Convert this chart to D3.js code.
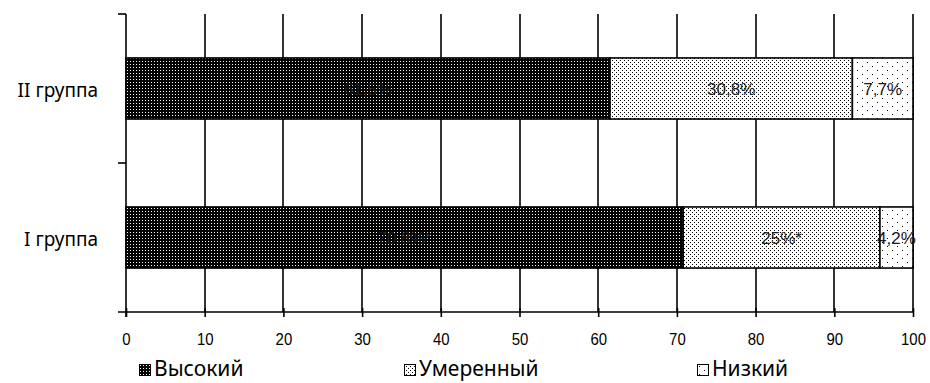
<!DOCTYPE html>
<html>
<head>
<meta charset="utf-8">
<script src="https://cdn.jsdelivr.net/npm/d3@7"></script>
<style>
  body { margin: 0; background: #fff; }
  svg { display: block; }
</style>
</head>
<body>
<div id="chart"></div>
<script>
// data
const groups = ["I группа", "II группа"];
const levels = ["Высокий", "Умеренный", "Низкий"];
const high = [70.8, 61.5];
const moderate = [25, 30.8];
const low = [4.2, 7.7];
const labels = [["70,8%*", "25%*", "4,2%"], ["61,5%", "30,8%", "7,7%"]];
const xTicks = [0, 10, 20, 30, 40, 50, 60, 70, 80, 90, 100];

const width = 930, height = 383;
const margin = {left: 126, right: 17, top: 14, bottom: 71};

const svg = d3.select("#chart").append("svg")
    .attr("width", width)
    .attr("height", height);

// patterns
const defs = svg.append("defs");
let p = defs.append("pattern").attr("id", "pat0").attr("patternUnits", "userSpaceOnUse")
    .attr("width", 3).attr("height", 3);
p.append("rect").attr("width", 3).attr("height", 3).attr("fill", "#000");
p.append("rect").attr("x", 1).attr("y", 1).attr("width", 1).attr("height", 1).attr("fill", "#fff");

p = defs.append("pattern").attr("id", "pat1").attr("patternUnits", "userSpaceOnUse")
    .attr("width", 4).attr("height", 4);
p.append("rect").attr("width", 4).attr("height", 4).attr("fill", "#fff");
p.append("rect").attr("x", 0).attr("y", 0).attr("width", 1).attr("height", 1).attr("fill", "#000");
p.append("rect").attr("x", 2).attr("y", 2).attr("width", 1).attr("height", 1).attr("fill", "#000");

p = defs.append("pattern").attr("id", "pat2").attr("patternUnits", "userSpaceOnUse")
    .attr("width", 10).attr("height", 8);
p.append("rect").attr("width", 10).attr("height", 8).attr("fill", "#fff");
p.append("rect").attr("x", 2).attr("y", 2).attr("width", 1).attr("height", 1).attr("fill", "#000");
p.append("rect").attr("x", 7).attr("y", 6).attr("width", 1).attr("height", 1).attr("fill", "#000");

const x = d3.scaleLinear().domain([0, 100]).range([margin.left, width - margin.right]);
const y = d3.scaleBand().domain(["II группа", "I группа"])
    .range([margin.top, height - margin.bottom]).paddingInner(0.59).paddingOuter(0.295);

// gridlines
svg.append("g").selectAll("line")
    .data(xTicks.slice(1))
    .join("line")
    .attr("x1", d => Math.round(x(d)))
    .attr("x2", d => Math.round(x(d)))
    .attr("y1", margin.top)
    .attr("y2", height - margin.bottom)
    .attr("stroke", "#000")
    .attr("stroke-width", 1.6);

// stacked bars
const stackData = groups.map((g, i) => ({group: g, "Высокий": high[i], "Умеренный": moderate[i], "Низкий": low[i], idx: i}));
const series = d3.stack().keys(levels)(stackData);

series.forEach((s, si) => {
    svg.append("g").selectAll("rect")
        .data(s)
        .join("rect")
        .attr("x", d => x(d[0]))
        .attr("y", d => y(d.data.group))
        .attr("width", d => x(d[1]) - x(d[0]))
        .attr("height", y.bandwidth())
        .attr("fill", `url(#pat${si})`)
        .attr("stroke", "#000")
        .attr("stroke-width", 1.6);
});

// value labels on top of all bars
series.forEach((s, si) => {
    svg.append("g").selectAll("text")
        .data(s)
        .join("text")
        .attr("x", d => (x(d[0]) + x(d[1])) / 2)
        .attr("y", d => y(d.data.group) + y.bandwidth() / 2 + 6.5)
        .attr("text-anchor", "middle")
        .attr("font-family", "'Liberation Sans', Arial, sans-serif")
        .attr("font-size", 17)
        .attr("fill", "#1a1a1a")
        .text(d => labels[d.data.idx][si]);
});

// axes
const xAxis = svg.append("g")
    .attr("transform", `translate(0,${height - margin.bottom})`)
    .call(d3.axisBottom(x).tickValues(xTicks).tickSize(5).tickPadding(16));
xAxis.select(".domain").attr("stroke", "#000").attr("stroke-width", 1.6).attr("d", `M${margin.left - 8},0H${width - margin.right}`);
xAxis.selectAll(".tick line").attr("stroke", "#000").attr("stroke-width", 1.6).attr("y1", -4);
xAxis.selectAll(".tick text")
    .attr("font-family", "'Liberation Sans', Arial, sans-serif")
    .attr("font-size", 17)
    .attr("transform", "scale(0.88,1)")
    .attr("fill", "#000");

const yAxis = svg.append("g").attr("transform", `translate(${margin.left},0)`);
yAxis.append("line")
    .attr("x1", 0).attr("x2", 0)
    .attr("y1", margin.top).attr("y2", height - margin.bottom + 5)
    .attr("stroke", "#000").attr("stroke-width", 1.6);
const yTickPos = [margin.top, (margin.top + height - margin.bottom) / 2];
yAxis.selectAll(".ytick")
    .data(yTickPos)
    .join("line")
    .attr("class", "ytick")
    .attr("x1", -8).attr("x2", 0)
    .attr("y1", d => d).attr("y2", d => d)
    .attr("stroke", "#000").attr("stroke-width", 1.6);
yAxis.selectAll(".ylab")
    .data(y.domain())
    .join("text")
    .attr("class", "ylab")
    .attr("x", -28)
    .attr("y", d => y(d) + y.bandwidth() / 2 + 8)
    .attr("text-anchor", "end")
    .attr("font-family", "'Noto Sans', 'Open Sans', sans-serif")
    .attr("font-size", 19)
    .attr("fill", "#000")
    .text(d => d);

// legend
const legendX = [139, 404, 697];
const legend = svg.append("g").selectAll("g")
    .data(levels)
    .join("g")
    .attr("transform", (d, i) => `translate(${legendX[i]},364)`);
legend.append("rect")
    .attr("x", 0.5).attr("y", 0.5)
    .attr("width", 11).attr("height", 11)
    .attr("fill", (d, i) => `url(#pat${i})`)
    .attr("stroke", "#000");
legend.append("text")
    .attr("x", 15)
    .attr("y", 12)
    .attr("font-family", "'Noto Sans', 'Open Sans', sans-serif")
    .attr("font-size", 21)
    .attr("fill", "#000")
    .text(d => d);
</script>
</body>
</html>
